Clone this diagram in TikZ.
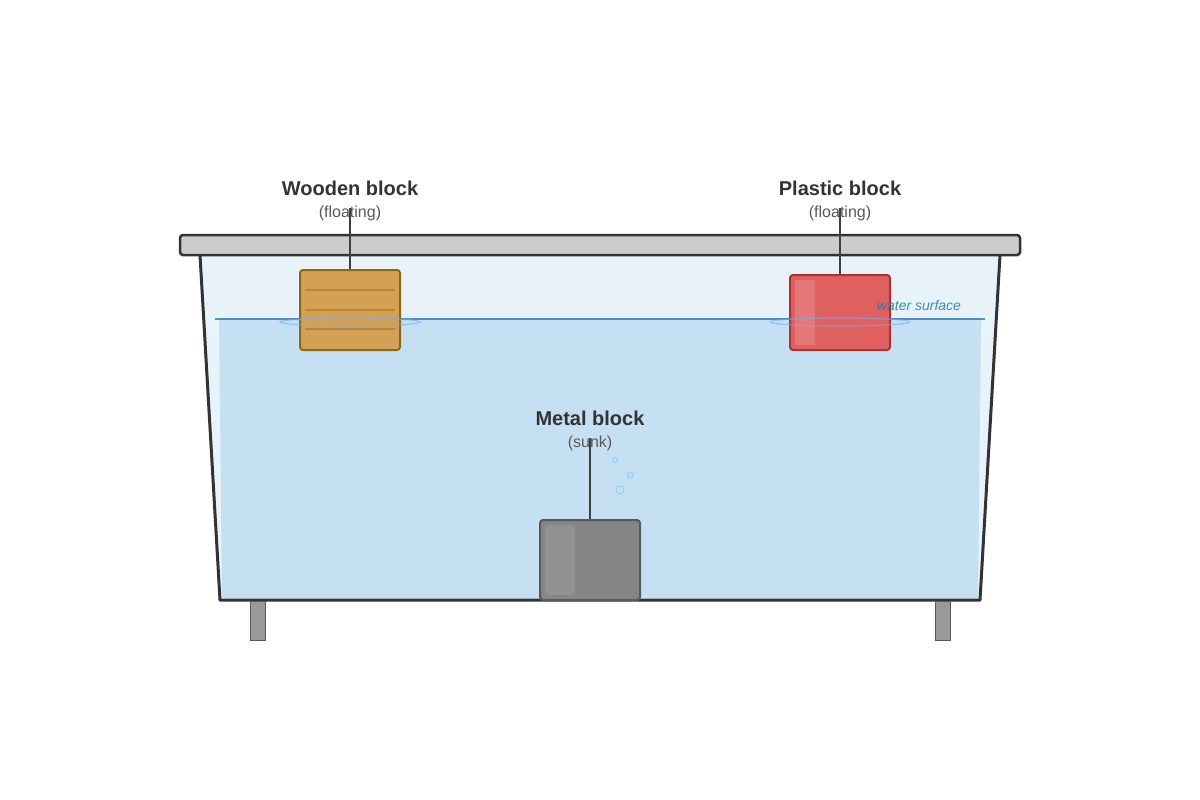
\documentclass[tikz,border=0pt]{standalone}
\usepackage{fontspec}
\setmainfont{Liberation Sans}
\begin{document}
\begin{tikzpicture}[x=1pt,y=-1pt,
  lbl/.style={font=\bfseries\fontsize{20}{22}\selectfont,text=black!80},
  sub/.style={font=\fontsize{16}{18}\selectfont,text=black!65},
  str/.style={draw=black!75,line width=1.5pt},
  ripple/.style={draw=blue!50!cyan!60,opacity=0.6,line width=1.2pt},
  bub/.style={draw=blue!40!cyan!45,line width=1pt}]
\definecolor{wood}{HTML}{D4A056}\definecolor{woodd}{HTML}{8B6914}\definecolor{grain}{HTML}{B8862F}
\definecolor{plas}{HTML}{E06060}\definecolor{plasd}{HTML}{A83232}
\definecolor{water}{HTML}{C5E0F2}\definecolor{air}{HTML}{E8F3F9}
\useasboundingbox (0,0) rectangle (1200,800);
\fill[white] (0,0) rectangle (1200,800);
% tank
\fill[air] (200,255) -- (1000,255) -- (980,600) -- (220,600) -- cycle;
\fill[white!60!water] (215,318) -- (985,318) -- (981,598) -- (219,598) -- cycle;
\fill[water] (219,318) -- (981,318) -- (978,598) -- (222,598) -- cycle;
\draw[draw=blue!50!cyan!70!black!90,line width=1.2pt,opacity=0.7] (215,319) -- (985,319);
\draw[black!80,line width=3pt,line join=round] (200,255) -- (220,600) -- (980,600) -- (1000,255);
\draw[fill=black!20,draw=black!80,line width=2.5pt,rounded corners=3pt] (180,235) rectangle (1020,255);
\draw[fill=black!40,draw=black!65,line width=1pt] (250,601) rectangle (265,640);
\draw[fill=black!40,draw=black!65,line width=1pt] (935,601) rectangle (950,640);
% wooden
\node[draw=woodd,fill=wood,line width=2pt,rounded corners=3pt,minimum width=100pt,minimum height=80pt,inner sep=0pt] (wood) at (350,310) {};
\foreach \y in {290,310,329} \draw[grain,line width=1.2pt] (305,\y) -- (395,\y);
\draw[ripple] (350,322) ellipse (70 and 4);
% plastic
\node[draw=plasd,fill=plas,line width=2pt,rounded corners=3pt,minimum width=100pt,minimum height=75pt,inner sep=0pt] (plastic) at (840,312.5) {};
\fill[white,opacity=0.15] (795,280) rectangle (815,345);
\draw[ripple] (840,322) ellipse (70 and 4);
\node[font=\itshape\fontsize{14}{16}\selectfont,text=blue!40!cyan!70!black!90,opacity=0.85] (ws) at (919,305) {water surface};
% metal
\node[draw=black!65,fill=black!48,line width=2pt,rounded corners=3pt,minimum width=100pt,minimum height=80pt,inner sep=0pt] (metal) at (590,560) {};
\fill[white,opacity=0.1] (545,525) rectangle (575,595);
\draw[bub] (615,460) circle (2.5);
\draw[bub] (630,475) circle (3);
\draw[bub] (620,490) circle (4);
% labels
\node[lbl] (wl) at (350,188) {Wooden block};
\node[sub] (ws2) at (350,213) {(floating)};
\node[lbl] (pl) at (840,188) {Plastic block};
\node[sub] (ps) at (840,213) {(floating)};
\node[lbl] (ml) at (590,418) {Metal block};
\node[sub] (ms) at (590,443) {(sunk)};
\coordinate (wt) at (350,208);\coordinate (pt) at (840,208);\coordinate (mt) at (590,438);
\draw[str] (wt) -- (wood.north);
\draw[str] (pt) -- (plastic.north);
\draw[str] (mt) -- (metal.north);
\end{tikzpicture}
\end{document}
